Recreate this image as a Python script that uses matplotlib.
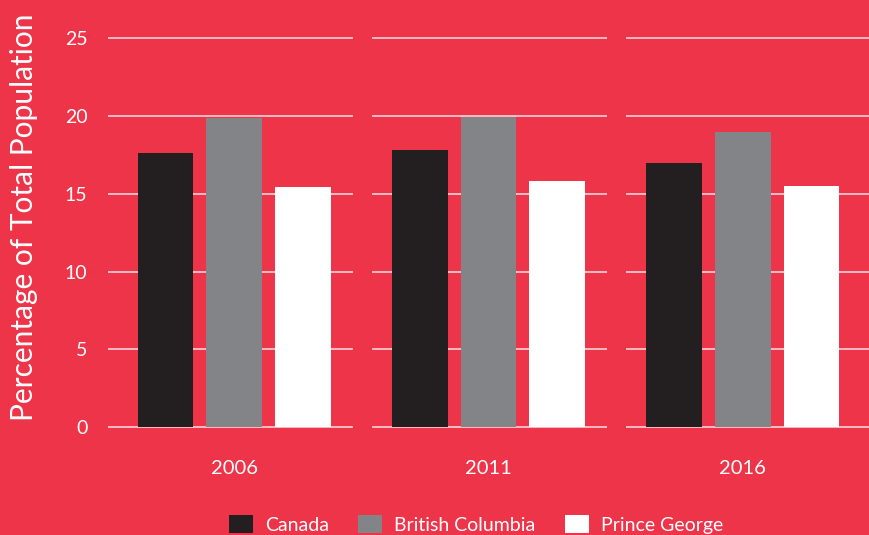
import numpy as np
import matplotlib
matplotlib.use("Agg")
import matplotlib.pyplot as plt
from matplotlib.patches import Patch

plt.rcParams['font.family'] = ['Lato', 'DejaVu Sans']

years = ['2006', '2011', '2016']
series = ['Canada', 'British Columbia', 'Prince George']
canada = [17.6, 17.8, 17.0]
british_columbia = [19.85, 19.95, 19.0]
prince_george = [15.45, 15.8, 15.5]
yticks = [0, 5, 10, 15, 20, 25]

bg = '#EE3449'
colors = ['#231F20', '#838487', '#FFFFFF']

fig = plt.figure(figsize=(8.7, 5.35), dpi=100, facecolor=bg)
ax = fig.add_axes([0.123, 0.1873, 0.877, 0.7557], facecolor=bg)

x = np.arange(len(years))
offsets = [-0.27, 0.0, 0.27]
width = 0.22

# grid broken into one segment per year group
seg_left = [-0.496, -0.458, -0.458]
seg_right = [0.466, 0.466, 0.6]
for yv in yticks:
    for xi, l, r in zip(x, seg_left, seg_right):
        ax.hlines(yv, xi + l, xi + r, color='white', alpha=0.85,
                  linewidth=1.1, zorder=1)

for vals, off, c in zip([canada, british_columbia, prince_george], offsets, colors):
    ax.bar(x + off, vals, width=width, color=c, zorder=2)

ax.set_xlim(-0.5, 2.5)
ax.set_ylim(-0.5, 25.5)
ax.set_yticks(yticks)
ax.set_yticklabels([str(v) for v in yticks])
ax.set_xticks(x)
ax.set_xticklabels(years)
ax.tick_params(axis='y', length=0, pad=14, labelsize=14, labelcolor='white')
ax.tick_params(axis='x', length=0, pad=18, labelsize=14.5, labelcolor='white')
for s in ax.spines.values():
    s.set_visible(False)

ax.set_ylabel('Percentage of Total Population', fontsize=21.5, color='white')
ax.yaxis.set_label_coords(-0.09, 0.537)

handles = [Patch(facecolor=c, edgecolor='none') for c in colors]
fig.legend(handles, series, loc='lower center', bbox_to_anchor=(0.547, -0.03),
           ncol=3, frameon=False, fontsize=14, labelcolor='white',
           handlelength=1.25, handleheight=1.1, handletextpad=0.6, columnspacing=1.5)

fig.savefig('out.png', dpi=100, facecolor=bg)
